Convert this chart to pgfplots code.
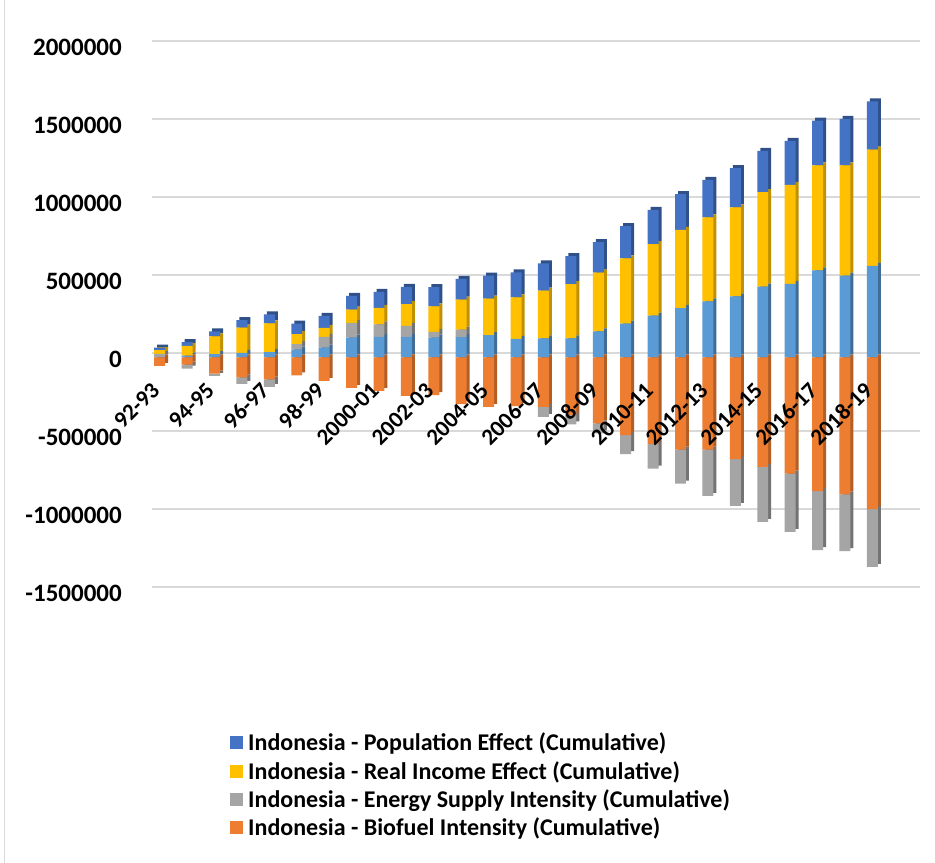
\documentclass[border=0pt]{standalone}
\usepackage{fontspec}
\setmainfont{Carlito}
\usepackage{pgfplots}
\usepackage{pgfplotstable}
\pgfplotsset{compat=1.18}
\definecolor{popblue}{HTML}{4472C4}
\definecolor{incyellow}{HTML}{FFC000}
\definecolor{enggray}{HTML}{A5A5A5}
\definecolor{bioorange}{HTML}{ED7D31}
\definecolor{lblue}{HTML}{5B9BD5}
\definecolor{gridgray}{HTML}{D9D9D9}

\pgfplotstableread{
x lb gp yel blu org gn
0 4000 19000 25000 15000 -53000 0
1 12000 0 62000 24000 -45000 -26000
2 21000 0 115000 32000 -103000 -15000
3 30000 0 162000 47000 -128000 -41000
4 34000 0 184000 58000 -141000 -47000
5 51000 34000 64000 68000 -115000 0
6 64000 68000 58000 77000 -150000 0
7 128000 94000 85000 88000 -194000 0
8 132000 81000 105000 103000 -214000 0
9 132000 70000 140000 110000 -246000 0
10 128000 36000 163000 124000 -241000 0
11 130000 49000 192000 133000 -299000 0
12 143000 0 235000 147000 -316000 0
13 120000 0 265000 160000 -312000 0
14 122000 0 306000 175000 -317000 -64000
15 122000 0 348000 180000 -370000 -58000
16 168000 0 376000 195000 -423000 -64000
17 217000 0 419000 206000 -498000 -122000
18 268000 0 459000 219000 -556000 -156000
19 316000 0 502000 229000 -590000 -218000
20 359000 0 539000 241000 -590000 -297000
21 391000 0 571000 252000 -652000 -299000
22 455000 0 605000 265000 -701000 -353000
23 472000 0 635000 282000 -744000 -374000
24 558000 0 673000 288000 -857000 -378000
25 524000 0 707000 299000 -878000 -363000
26 588000 0 744000 310000 -972000 -370000
}\datatable

\newcommand{\ylblfont}{\fontsize{25bp}{30bp}\selectfont\bfseries}
\newcommand{\xlblfont}{\fontsize{23bp}{27bp}\selectfont\bfseries}
\newcommand{\legfont}{\fontsize{24bp}{29bp}\selectfont\bfseries}

\pgfplotsset{
  frame/.style={scale only axis, width=767.5bp, height=546bp,
    xmin=-0.5, xmax=27.5, ymin=-1500000, ymax=2000000, anchor=south west,
    scaled y ticks=false},
  bars/.style={frame, hide axis, ybar stacked, bar width=0.40},
}

\begin{document}
\begin{tikzpicture}
\path[use as bounding box] (0,0) rectangle (935bp,863bp);
\fill[white] (0,0) rectangle (935bp,863bp);
\draw[gridgray, line width=1bp] (4bp,0) -- (4bp,863bp);

% back wall: grid, y labels, legend
\begin{axis}[scale only axis, width=768bp, height=546bp,
  xmin=0, xmax=1, ymin=-1500000, ymax=2000000,
  at={(152bp,276bp)}, anchor=south west, scaled y ticks=false,
  axis line style={draw=none}, tick style={draw=none},
  xtick=\empty,
  ytick={-1500000,-1000000,-500000,0,500000,1000000,1500000,2000000},
  yticklabels={-1500000,-1000000,-500000,0,500000,1000000,1500000,2000000},
  yticklabel style={font=\ylblfont, inner sep=0pt, anchor=east, xshift=-30bp, yshift=-6bp},
  ymajorgrids, grid style={draw=gridgray, line width=1.5bp},
  legend image code/.code={\fill[#1] (0bp,-6.5bp) rectangle (13bp,6.5bp);},
  legend style={at={(0.1016,-0.2637)}, anchor=north west, draw=none, fill=none,
    font=\legfont, row sep=5bp, /tikz/column sep=3bp, inner sep=0pt},
  legend cell align=left,
]
\pgfplotsinvokeforeach{-1500000,-1000000,-500000,0,500000,1000000,1500000,2000000}{
  \draw[gridgray, line width=1.5bp] (axis cs:0,#1) -- ++(-9bp,-4.5bp);
}
\addlegendimage{fill=popblue, draw=none}
\addlegendentry{Indonesia - Population Effect (Cumulative)}
\addlegendimage{fill=incyellow, draw=none}
\addlegendentry{Indonesia - Real Income Effect (Cumulative)}
\addlegendimage{fill=enggray, draw=none}
\addlegendentry{Indonesia - Energy Supply Intensity (Cumulative)}
\addlegendimage{fill=bioorange, draw=none}
\addlegendentry{Indonesia - Biofuel Intensity (Cumulative)}
\end{axis}

% side faces (shifted copies)
\begin{axis}[bars, at={(149bp,274.5bp)}]
\addplot[fill=lblue!70!black, draw=none] table[x=x,y=lb]{\datatable};
\addplot[fill=enggray!70!black, draw=none] table[x=x,y=gp]{\datatable};
\addplot[fill=incyellow!75!black, draw=none] table[x=x,y=yel]{\datatable};
\addplot[fill=popblue!70!black, draw=none] table[x=x,y=blu]{\datatable};
\end{axis}
\begin{axis}[bars, at={(149bp,274.5bp)}]
\addplot[fill=bioorange!75!black, draw=none] table[x=x,y=org]{\datatable};
\addplot[fill=enggray!70!black, draw=none] table[x=x,y=gn]{\datatable};
\end{axis}

% front faces
\begin{axis}[bars, at={(146bp,271.5bp)}]
\addplot[fill=lblue, draw=none] table[x=x,y=lb]{\datatable};
\addplot[fill=enggray, draw=none] table[x=x,y=gp]{\datatable};
\addplot[fill=incyellow, draw=none] table[x=x,y=yel]{\datatable};
\addplot[fill=popblue, draw=none] table[x=x,y=blu]{\datatable};
\end{axis}
\begin{axis}[frame, at={(146bp,271.5bp)}, ybar stacked, bar width=0.40,
  axis on top,
  axis x line*=middle, axis line style={draw=none}, tick style={draw=none},
  ytick=\empty,
  xtick={0,2,4,6,8,10,12,14,16,18,20,22,24,26},
  xticklabels={92-93,94-95,96-97,98-99,2000-01,2002-03,2004-05,2006-07,2008-09,2010-11,2012-13,2014-15,2016-17,2018-19},
  xticklabel style={font=\xlblfont, inner sep=0pt, xshift=-4bp, yshift=-29bp, rotate=45, anchor=east},
]
\addplot[fill=bioorange, draw=none] table[x=x,y=org]{\datatable};
\addplot[fill=enggray, draw=none] table[x=x,y=gn]{\datatable};
\end{axis}
\end{tikzpicture}
\end{document}
